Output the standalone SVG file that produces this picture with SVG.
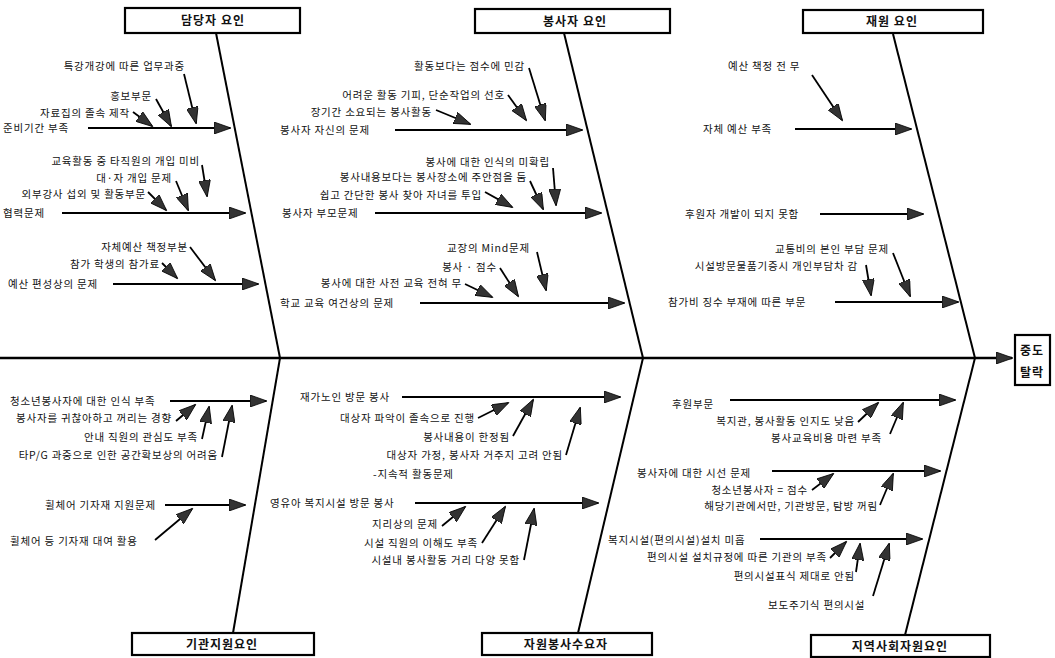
<svg xmlns="http://www.w3.org/2000/svg" width="1055" height="658" viewBox="0 0 1055 658">
<style>
text{font-family:"Noto Sans CJK KR","Noto Sans",sans-serif;font-size:10.5px;fill:#111;letter-spacing:0.8px}
.t{font-size:12px;font-weight:bold;letter-spacing:1px}
.e{text-anchor:end}
.m{text-anchor:middle}
.box{fill:#fff;stroke:#000;stroke-width:2.2}
.bone{stroke:#000;stroke-width:2;fill:none}
.br{stroke:#000;stroke-width:2;fill:none;marker-end:url(#ah)}
.sb{stroke:#000;stroke-width:1.8;fill:none;marker-end:url(#ah)}
</style>
<defs>
<marker id="ah" markerUnits="userSpaceOnUse" markerWidth="18" markerHeight="12" refX="16" refY="6" orient="auto">
<path d="M0,0 L17,6 L0,12 z" fill="#333" stroke="#000" stroke-width="0.8"/>
</marker>
</defs>
<rect width="1055" height="658" fill="#fff"/>

<g id="connectors">
<line class="br" x1="0" y1="358" x2="1012" y2="358" style="stroke-width:2.5"/>
<line class="bone" x1="216" y1="33" x2="280" y2="358"/>
<line class="bone" x1="564" y1="33" x2="643" y2="358"/>
<line class="bone" x1="893" y1="34" x2="975" y2="358"/>
<line class="bone" x1="280" y1="358" x2="233" y2="633"/>
<line class="bone" x1="643" y1="358" x2="578" y2="633"/>
<line class="bone" x1="975" y1="358" x2="905" y2="635"/>

<line class="br" x1="88" y1="128" x2="230" y2="128"/>
<line class="sb" x1="133" y1="112" x2="152" y2="126"/>
<line class="sb" x1="156" y1="99" x2="171" y2="126"/>
<line class="sb" x1="184" y1="74" x2="196" y2="123"/>
<line class="br" x1="62" y1="213" x2="245" y2="213"/>
<line class="sb" x1="148" y1="192" x2="166" y2="210"/>
<line class="sb" x1="176" y1="181" x2="188" y2="210"/>
<line class="sb" x1="202" y1="165" x2="207" y2="196"/>
<line class="br" x1="113" y1="284" x2="258" y2="284"/>
<line class="sb" x1="162" y1="263" x2="177" y2="278"/>
<line class="sb" x1="190" y1="247" x2="215" y2="280"/>

<line class="br" x1="395" y1="130" x2="582" y2="130"/>
<line class="sb" x1="436" y1="110" x2="470" y2="124"/>
<line class="sb" x1="508" y1="95" x2="526" y2="120"/>
<line class="sb" x1="529" y1="68" x2="545" y2="120"/>
<line class="br" x1="375" y1="213" x2="601" y2="213"/>
<line class="sb" x1="485" y1="192" x2="512" y2="207"/>
<line class="sb" x1="530" y1="181" x2="543" y2="209"/>
<line class="sb" x1="553" y1="168" x2="556" y2="205"/>
<line class="br" x1="420" y1="303" x2="624" y2="303"/>
<line class="sb" x1="465" y1="284" x2="492" y2="297"/>
<line class="sb" x1="500" y1="268" x2="518" y2="296"/>
<line class="sb" x1="537" y1="252" x2="546" y2="290"/>

<line class="br" x1="795" y1="129" x2="911" y2="129"/>
<line class="sb" x1="812" y1="75" x2="842" y2="120"/>
<line class="br" x1="820" y1="214" x2="923" y2="214"/>
<line class="br" x1="835" y1="302" x2="958" y2="302"/>
<line class="sb" x1="866" y1="265" x2="871" y2="295"/>
<line class="sb" x1="893" y1="253" x2="910" y2="296"/>

<line class="br" x1="170" y1="401" x2="266" y2="401"/>
<line class="sb" x1="176" y1="421" x2="195" y2="405"/>
<line class="sb" x1="202" y1="439" x2="209" y2="407"/>
<line class="sb" x1="222" y1="457" x2="232" y2="406"/>
<line class="br" x1="165" y1="505" x2="245" y2="505"/>
<line class="sb" x1="155" y1="540" x2="192" y2="509"/>

<line class="br" x1="402" y1="397" x2="620" y2="397"/>
<line class="sb" x1="478" y1="418" x2="508" y2="403"/>
<line class="sb" x1="513" y1="436" x2="533" y2="400"/>
<line class="sb" x1="566" y1="455" x2="580" y2="408"/>
<line class="br" x1="415" y1="503" x2="598" y2="503"/>
<line class="sb" x1="442" y1="526" x2="465" y2="507"/>
<line class="sb" x1="482" y1="543" x2="505" y2="507"/>
<line class="sb" x1="524" y1="560" x2="534" y2="509"/>

<line class="br" x1="730" y1="400" x2="955" y2="400"/>
<line class="sb" x1="858" y1="422" x2="878" y2="403"/>
<line class="sb" x1="890" y1="434" x2="903" y2="403"/>
<line class="br" x1="772" y1="471" x2="940" y2="471"/>
<line class="sb" x1="812" y1="490" x2="833" y2="474"/>
<line class="sb" x1="880" y1="505" x2="893" y2="474"/>
<line class="br" x1="760" y1="539" x2="922" y2="539"/>
<line class="sb" x1="830" y1="558" x2="846" y2="542"/>
<line class="sb" x1="856" y1="572" x2="860" y2="544"/>
<line class="sb" x1="873" y1="596" x2="889" y2="544"/>
</g>

<g id="head"><rect class="box" x="1015" y="335" width="35" height="50"/><text class="t m" x="1032" y="355">중도</text><text class="t m" x="1032" y="377">탈락</text></g>

<g id="cat-damdang"><rect class="box" x="125" y="8" width="175" height="25"/><text class="t m" x="213" y="25">담당자 요인</text></g>
<g id="cat-bongsa"><rect class="box" x="475" y="9" width="195" height="24"/><text class="t m" x="575" y="26">봉사자 요인</text></g>
<g id="cat-jaewon"><rect class="box" x="803" y="10" width="180" height="23"/><text class="t m" x="892" y="26">재원 요인</text></g>
<g id="cat-gigwan"><rect class="box" x="132" y="633" width="182" height="22"/><text class="t m" x="222" y="649">기관지원요인</text></g>
<g id="cat-suyo"><rect class="box" x="482" y="633" width="170" height="22"/><text class="t m" x="566" y="649">자원봉사수요자</text></g>
<g id="cat-jiyeok"><rect class="box" x="811" y="635" width="179" height="22"/><text class="t m" x="900" y="651">지역사회자원요인</text></g>

<g id="labels-damdang">
<text x="3" y="132">준비기간 부족</text>
<text class="e" x="130" y="117">자료집의 졸속 제작</text>
<text class="e" x="152" y="100">홍보부문</text>
<text class="e" x="185" y="70">특강개강에 따른 업무과중</text>
<text x="3" y="217">협력문제</text>
<text class="e" x="146" y="198">외부강사 섭외 및 활동부문</text>
<text class="e" x="172" y="182">대·자 개입 문제</text>
<text class="e" x="200" y="165">교육활동 중 타직원의 개입 미비</text>
<text x="8" y="288">예산 편성상의 문제</text>
<text class="e" x="160" y="268">참가 학생의 참가료</text>
<text class="e" x="188" y="251">자체예산 책정부분</text>
</g>

<g id="labels-bongsa">
<text x="280" y="134">봉사자 자신의 문제</text>
<text class="e" x="432" y="116">장기간 소요되는 봉사활동</text>
<text class="e" x="505" y="99">어려운 활동 기피, 단순작업의 선호</text>
<text class="e" x="525" y="70">활동보다는 점수에 민감</text>
<text x="282" y="217">봉사자 부모문제</text>
<text class="e" x="482" y="199">쉽고 간단한 봉사 찾아 자녀를 투입</text>
<text class="e" x="527" y="181">봉사내용보다는 봉사장소에 주안점을 둠</text>
<text class="e" x="550" y="166">봉사에 대한 인식의 미확립</text>
<text x="280" y="307">학교 교육 여건상의 문제</text>
<text class="e" x="462" y="287">봉사에 대한 사전 교육 전혀 무</text>
<text class="e" x="497" y="271">봉사 · 점수</text>
<text class="e" x="530" y="252">교장의 Mind문제</text>
</g>

<g id="labels-jaewon">
<text x="703" y="133">자체 예산 부족</text>
<text x="728" y="70">예산 책정 전 무</text>
<text x="685" y="218">후원자 개발이 되지 못함</text>
<text x="668" y="306">참가비 징수 부재에 따른 부문</text>
<text class="e" x="858" y="270">시설방문물품기증시 개인부담차 감</text>
<text class="e" x="889" y="253">교통비의 본인 부담 문제</text>
</g>

<g id="labels-gigwan">
<text x="10" y="405">청소년봉사자에 대한 인식 부족</text>
<text class="e" x="172" y="422">봉사자를 귀찮아하고 꺼리는 경향</text>
<text class="e" x="198" y="441">안내 직원의 관심도 부족</text>
<text class="e" x="218" y="459">타P/G 과중으로 인한 공간확보상의 어려움</text>
<text x="45" y="509">휠체어 기자재 지원문제</text>
<text x="10" y="545">휠체어 등 기자재 대여 활용</text>
</g>

<g id="labels-suyo">
<text x="300" y="401">재가노인 방문 봉사</text>
<text class="e" x="475" y="422">대상자 파악이 졸속으로 진행</text>
<text class="e" x="510" y="441">봉사내용이 한정됨</text>
<text class="e" x="563" y="459">대상자 가정, 봉사자 거주지 고려 안됨</text>
<text x="373" y="478">-지속적 활동문제</text>
<text x="270" y="507">영유아 복지시설 방문 봉사</text>
<text class="e" x="438" y="528">지리상의 문제</text>
<text class="e" x="478" y="547">시설 직원의 이해도 부족</text>
<text class="e" x="520" y="564">시설내 봉사활동 거리 다양 못함</text>
</g>

<g id="labels-jiyeok">
<text x="672" y="408">후원부문</text>
<text class="e" x="855" y="425">복지관, 봉사활동 인지도 낮음</text>
<text class="e" x="882" y="442">봉사교육비용 마련 부족</text>
<text x="637" y="477">봉사자에 대한 시선 문제</text>
<text class="e" x="808" y="494">청소년봉사자 = 점수</text>
<text class="e" x="878" y="510">해당기관에서만, 기관방문, 탐방 꺼림</text>
<text x="608" y="544">복지시설(편의시설)설치 미흡</text>
<text class="e" x="827" y="561">편의시설 설치규정에 따른 기관의 부족</text>
<text class="e" x="855" y="580">편의시설표식 제대로 안됨</text>
<text x="768" y="609">보도주기식 편의시설</text>
</g>
</svg>
